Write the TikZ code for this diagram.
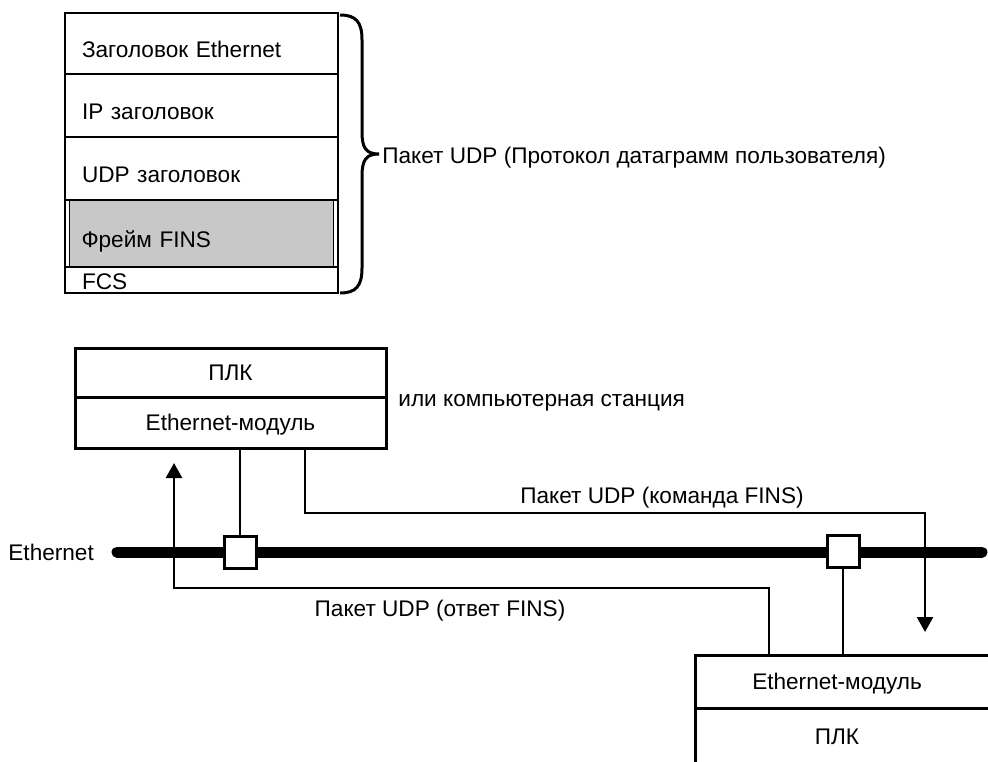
\documentclass[tikz,border=0pt]{standalone}
\usepackage{fontspec}
\setmainfont{Liberation Sans}
\usetikzlibrary{arrows.meta,positioning}
\definecolor{finsgray}{RGB}{200,200,200}

\begin{document}
\begin{tikzpicture}[
  x=0.5pt, y=-0.5pt,
  font=\fontsize{11.3}{13}\selectfont,
  row/.style={rectangle, draw, line width=1.2pt, outer sep=0pt, anchor=north west, minimum width=136.5pt, inner xsep=8.5pt, inner ysep=0pt, text width=119.5pt, align=left, text height=13.9pt, text depth=0pt},
  fins/.style={rectangle, draw, line width=0.8pt, outer sep=0pt, fill=finsgray, minimum width=132pt, minimum height=33.5pt, inner xsep=6pt, inner ysep=0pt, text width=120pt, align=left, text height=13.9pt, text depth=0pt},
  mod/.style={rectangle, draw, line width=1.5pt, outer sep=0pt, minimum width=155.5pt, text height=8pt, text depth=0pt},
  lbl/.style={inner sep=0pt, text height=8pt, text depth=0pt},
  tap/.style={rectangle, draw, fill=white, line width=1.5pt, minimum size=16pt, inner sep=0pt},
  bus/.style={line width=5.5pt, line cap=round},
  link/.style={line width=1.2pt},
  arr/.style={-{Triangle[width=8pt,length=7.5pt]}, line width=1.2pt}
]
\useasboundingbox (0,0) rectangle (988,761);

\node[row, minimum height=30.5pt] (eth) at (65,13) {Заголовок Ethernet};
\node[row, minimum height=31.5pt, below=0pt of eth] (ip) {IP заголовок};
\node[row, minimum height=31.5pt, below=0pt of ip] (udp) {UDP заголовок};
\node[fins, below=0pt of udp] (frame) {Фрейм FINS};
\node[row, minimum height=13pt, text height=9.4pt, below=0pt of frame] (fcs) {FCS};
\draw[line width=1.2pt] (udp.south west) -- (fcs.north west);
\draw[line width=1.2pt] (udp.south east) -- (fcs.north east);

\draw[line width=1.5pt] (340,15) .. controls (356,15) and (362,22) .. (362,40) -- (362,132) .. controls (362,148) and (366,154) .. (379,154) .. controls (366,154) and (362,160) .. (362,176) -- (362,268) .. controls (362,286) and (356,293) .. (340,293);
\node[lbl, anchor=west] (udplbl) at (382,155) {Пакет UDP (Протокол датаграмм пользователя)};

\node[mod, minimum height=24.5pt] (plc1) at (230.5,372.5) {ПЛК};
\node[mod, minimum height=25.5pt, below=0pt of plc1] (emod1) {Ethernet-модуль};
\node[lbl, anchor=west] (alt) at (398,398) {или компьютерная станция};

\draw[line width=1.5pt] (1010,655) -| (695,780);
\draw[line width=1.5pt] (695,708) -- (1010,708);
\node[lbl, minimum height=26.5pt] (emod2) at (837,681.5) {Ethernet-модуль};
\node[lbl, minimum height=26.5pt] (plc2) at (837,736) {ПЛК};

\coordinate (busL) at (117,552);
\coordinate (busR) at (982,552);
\draw[bus] (busL) -- (busR);
\node[lbl, anchor=west] (ethlbl) at (8,552) {Ethernet};

\coordinate (cmd) at (305,513);
\coordinate (cmdtip) at (925,632);
\coordinate (rsp) at (769,588);
\coordinate (rsptip) at (174,463);

\node[tap] (tap1) at (240,552) {};
\node[tap] (tap2) at (843,551) {};

\draw[link] (emod1.south -| tap1) -- (tap1.north);
\draw[link] (tap2.south) -- (tap2.south |- emod2.north);
\draw[arr] (emod1.south -| cmd) -- (cmd) -| (cmdtip);
\draw[arr] (emod2.north -| rsp) -- (rsp) -| (rsptip);

\node[lbl] (cmdlbl) at (662,495) {Пакет UDP (команда FINS)};
\node[lbl] (rsplbl) at (440,608) {Пакет UDP (ответ FINS)};
\end{tikzpicture}
\end{document}
